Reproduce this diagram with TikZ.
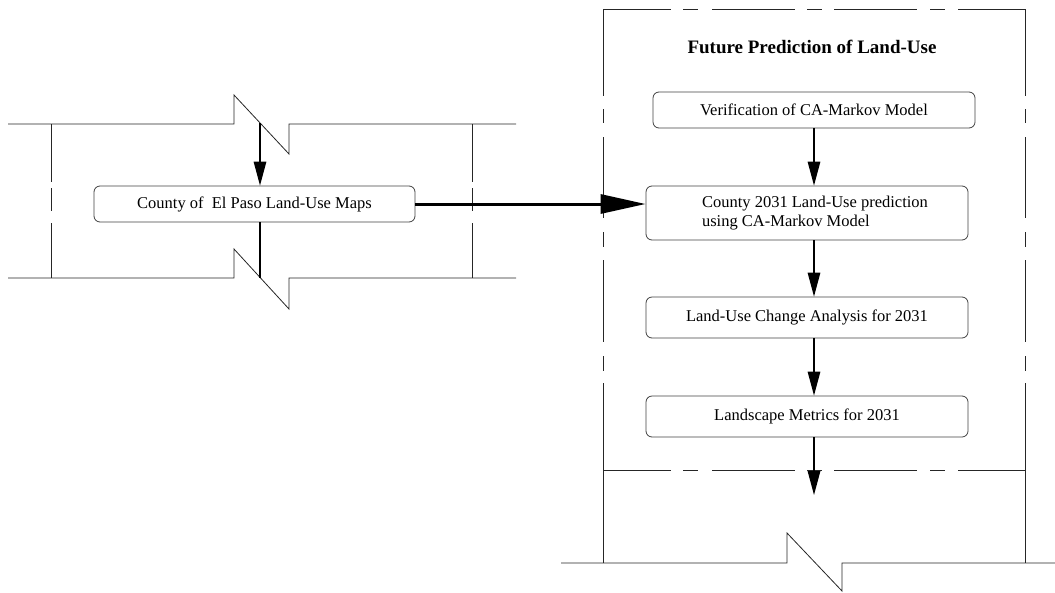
\documentclass[tikz,border=0pt]{standalone}
\usepackage{fontspec}
\setmainfont{Liberation Serif}
\usetikzlibrary{arrows.meta}

\begin{document}
\begin{tikzpicture}[x=1pt,y=-1pt,
  box/.style={draw=black!75, line width=0.8pt, rounded corners=6pt,
    inner sep=0pt, font=\fontsize{16.5}{19}\selectfont},
  frame/.style={draw=black!85, line width=0.8pt},
  flow/.style={draw=black, line width=1.4pt, -{Triangle[length=24pt,width=12.5pt]}},
  bigflow/.style={draw=black, line width=3pt, -{Triangle[length=45pt,width=19pt]}},
  heading/.style={font=\fontsize{19}{22}\selectfont\bfseries},
]
\useasboundingbox (0,0) rectangle (1055,592);

% ---- left band with break symbols ----
\draw[frame] (8,124) -- (234,124) -- (234,95) -- (289,154) -- (289,124) -- (516,124);
\draw[frame] (8,278) -- (234,278) -- (234,249) -- (289,309) -- (289,278) -- (516,278);
\foreach \x in {51,472}{
  \draw[frame] (\x,124) -- (\x,182) (\x,188) -- (\x,211) (\x,223) -- (\x,278);
}

% ---- right frame: dash-dot border ----
\foreach \y in {9,470}{
  \draw[frame] (603,\y) -- (671,\y) (683,\y) -- (698,\y) (712,\y) -- (795,\y)
    (807,\y) -- (822,\y) (834,\y) -- (917,\y) (930,\y) -- (945,\y) (958,\y) -- (1025,\y);
}
\foreach \x in {603,1025}{
  \draw[frame] (\x,9) -- (\x,96) (\x,109) -- (\x,123) (\x,137) -- (\x,218)
    (\x,232) -- (\x,247) (\x,260) -- (\x,342) (\x,356) -- (\x,371) (\x,383) -- (\x,563);
}
\draw[frame] (561,563) -- (787,563) -- (787,533) -- (842,591) -- (842,563) -- (1055,563);

% ---- nodes ----
\node[box, minimum width=321pt, minimum height=36pt] (lb) at (254.5,204)
  {County of \ El Paso Land-Use Maps};
\node[heading] (title) at (812,47) {Future Prediction of Land-Use};
\node[box, minimum width=322pt, minimum height=36pt] (b1) at (814,110)
  {Verification of CA-Markov Model};
\node[box, minimum width=322pt, minimum height=54pt, align=left] (b2) at (807,213)
  {\hspace*{16pt}County 2031 Land-Use prediction\\\hspace*{16pt}using CA-Markov Model};
\node[box, minimum width=322pt, minimum height=41pt] (b3) at (807,317.5)
  {Land-Use Change Analysis for 2031};
\node[box, minimum width=322pt, minimum height=41pt] (b4) at (807,416.5)
  {Landscape Metrics for 2031};

\coordinate (ltop) at (260,123);
\coordinate (lbot) at (260,278);
\coordinate (out) at (814,495);

% ---- connectors ----
\draw[flow] (ltop) -- (lb.north -| ltop);
\draw[frame, draw=black, line width=1.2pt] (lb.south -| ltop) -- (lbot);
\draw[bigflow] (lb.east) -- (lb.east -| b2.west);
\draw[flow] (b1.south) -- (b2.north -| b1.south);
\draw[flow] (b2.south -| b1.south) -- (b3.north -| b1.south);
\draw[flow] (b3.south -| b1.south) -- (b4.north -| b1.south);
\draw[flow] (b4.south -| b1.south) -- (out);
\end{tikzpicture}
\end{document}
